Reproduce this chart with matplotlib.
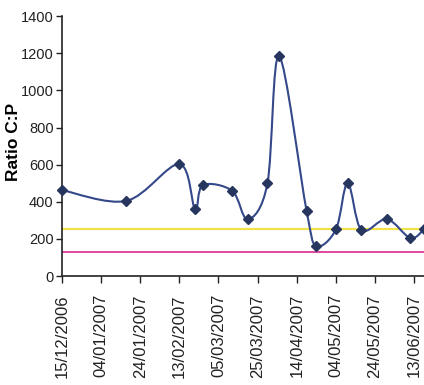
import numpy as np
import matplotlib
matplotlib.use('Agg')
import matplotlib.pyplot as plt
import matplotlib.dates as mdates
from matplotlib.path import Path
from matplotlib.patches import PathPatch
from datetime import date, timedelta

plt.rcParams['font.family'] = ['Liberation Sans', 'DejaVu Sans']

# data
sample_dates = ['15/12/2006', '17/01/2007', '13/02/2007', '21/02/2007', '25/02/2007',
                '12/03/2007', '20/03/2007', '30/03/2007', '05/04/2007', '19/04/2007',
                '24/04/2007', '04/05/2007', '10/05/2007', '17/05/2007', '30/05/2007',
                '11/06/2007', '18/06/2007']
ratio_cp = [463, 405, 603, 362, 490, 459, 305, 499, 1185, 352,
            163, 251, 501, 248, 307, 205, 251]
upper_ref = 253
lower_ref = 128


def parse(s):
    d, m, y = s.split('/')
    return date(int(y), int(m), int(d))


xd = mdates.date2num([parse(s) for s in sample_dates])
y = np.array(ratio_cp, dtype=float)

fig = plt.figure(figsize=(4.24, 3.85), dpi=100)
ax = fig.add_axes([0.146, 0.283, 0.854, 0.675])

# smoothed line (Excel-like), drawn as cubic bezier segments
pts = np.column_stack([xd, y])
verts = [pts[0]]
codes = [Path.MOVETO]
n = len(pts)
for i in range(n - 1):
    p0 = pts[i - 1] if i > 0 else pts[i]
    p1 = pts[i]
    p2 = pts[i + 1]
    p3 = pts[i + 2] if i + 2 < n else pts[i + 1]
    c1 = p1 + (p2 - p0) / 6.0
    c2 = p2 - (p3 - p1) / 6.0
    verts += [c1, c2, p2]
    codes += [Path.CURVE4] * 3
ax.add_patch(PathPatch(Path(verts, codes), fill=False, edgecolor='#34488a', lw=1.5,
                       zorder=3, clip_on=True))
ax.plot(xd, y, linestyle='none', marker='D', ms=5.5, color='#27365f', zorder=4,
        clip_on=False)

ax.axhline(upper_ref, color='#f2e24a', lw=1.6, zorder=2)
ax.axhline(lower_ref, color='#e2459b', lw=1.4, zorder=2)

start = parse('15/12/2006')
ticks = [start + timedelta(days=20 * k) for k in range(10)]
ax.set_xticks(mdates.date2num(ticks))
ax.set_xticklabels([t.strftime('%d/%m/%Y') for t in ticks], rotation=90, fontsize=12)
ax.set_xlim(mdates.date2num(start), mdates.date2num(start + timedelta(days=185.5)))

ax.set_ylim(0, 1400)
ax.set_yticks(range(0, 1401, 200))
for lab in ax.get_yticklabels():
    lab.set_fontsize(10.5)
ax.set_ylabel('Ratio C:P', fontsize=12.5, fontweight='bold')
ax.yaxis.set_label_coords(-0.113, 0.515)

for s in ['top', 'right']:
    ax.spines[s].set_visible(False)
for s in ['left', 'bottom']:
    ax.spines[s].set_color('#222222')
    ax.spines[s].set_linewidth(1.2)
ax.tick_params(axis='x', direction='out', length=5, width=1, colors='#222222', pad=8)
ax.tick_params(axis='y', direction='out', length=4, width=1, colors='#222222', pad=2)

fig.savefig('out.png', dpi=100)
